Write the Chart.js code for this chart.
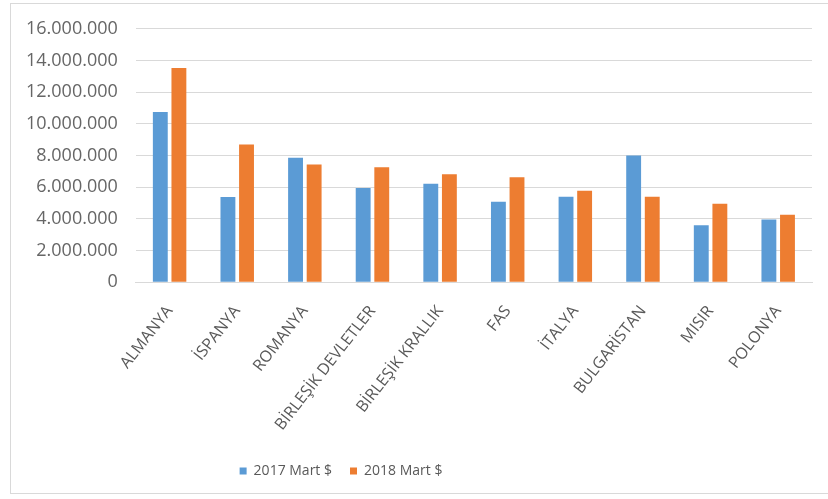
<!DOCTYPE html>
<html>
<head>
<meta charset="utf-8">
<script src="https://cdn.jsdelivr.net/npm/chart.js@4.4.1/dist/chart.umd.min.js"></script>
<style>
  html, body { margin: 0; padding: 0; background: #fff; }
  #wrap { position: relative; width: 828px; height: 499px; overflow: hidden; }
  #frame { position: absolute; left: 10px; top: 3px; width: 840px; height: 491px; border: 1px solid #d9d9d9; box-sizing: border-box; }
  canvas { position: absolute; left: 0; top: 0; }
</style>
</head>
<body>
<div id="wrap">
  <div id="frame"></div>
  <canvas id="chart" width="828" height="499"></canvas>
</div>
<script>
const countries = ['ALMANYA', 'İSPANYA', 'ROMANYA', 'BİRLEŞİK DEVLETLER', 'BİRLEŞİK KRALLIK', 'FAS', 'İTALYA', 'BULGARİSTAN', 'MISIR', 'POLONYA']
const mart2017 = [10740000, 5370000, 7860000, 5940000, 6210000, 5080000, 5390000, 8000000, 3600000, 3960000]
const mart2018 = [13520000, 8700000, 7430000, 7260000, 6820000, 6630000, 5770000, 5390000, 4950000, 4260000]
const seriesNames = ['2017 Mart $', '2018 Mart $']

const fmt = v => String(v).replace(/\B(?=(\d{3})+(?!\d))/g, '.')

// move the legend a bit left, like the original
const legendShift = {
  id: 'legendShift',
  afterLayout(chart) {
    const lg = chart.legend
    if (!lg) return
    lg.left = 155
    lg.right = 527
  }
}

new Chart(document.getElementById('chart'), {
  type: 'bar',
  data: {
    labels: countries,
    datasets: [
      { label: seriesNames[0], data: mart2017, backgroundColor: '#5b9bd5', categoryPercentage: 0.55, barPercentage: 0.8 },
      { label: seriesNames[1], data: mart2018, backgroundColor: '#ed7d31', categoryPercentage: 0.55, barPercentage: 0.8 }
    ]
  },
  options: {
    responsive: false,
    animation: false,
    layout: { padding: { left: 8, right: 16, top: 19, bottom: 11 } },
    plugins: {
      legend: {
        position: 'bottom',
        labels: {
          font: { size: 14, family: 'Open Sans' },
          color: '#595959',
          boxWidth: 7,
          boxHeight: 7,
          padding: 18
        }
      },
      tooltip: { enabled: false }
    },
    scales: {
      x: {
        grid: { display: false },
        border: { color: '#d9d9d9' },
        ticks: {
          font: { size: 16, family: 'Open Sans' },
          color: '#595959',
          minRotation: 52,
          maxRotation: 52,
          padding: 12
        }
      },
      y: {
        min: 0,
        max: 16000000,
        border: { display: false },
        grid: { color: '#d9d9d9', drawTicks: false },
        ticks: {
          stepSize: 2000000,
          font: { size: 18, family: 'Open Sans' },
          color: '#666666',
          padding: 18,
          callback: v => fmt(v)
        }
      }
    }
  },
  plugins: [legendShift]
})
</script>
</body>
</html>
